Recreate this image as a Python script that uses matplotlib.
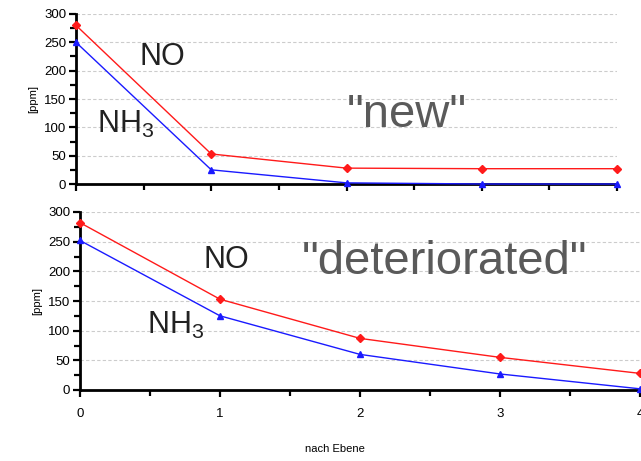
import matplotlib
matplotlib.use("Agg")
import matplotlib.pyplot as plt
from matplotlib.ticker import MultipleLocator

stages = [0, 1, 2, 3, 4]
new_no = [280, 53, 28, 27, 27]
new_nh3 = [250, 25, 2, 0, 0]
det_no = [282, 153, 87, 55, 28]
det_nh3 = [252, 125, 60, 27, 2]
y_ticks = [0, 50, 100, 150, 200, 250, 300]
x_ticks = [0, 1, 2, 3, 4]

plt.rcParams['font.family'] = ['Liberation Sans', 'DejaVu Sans']
plt.rcParams['mathtext.fontset'] = 'custom'
plt.rcParams['mathtext.rm'] = 'Liberation Sans'
plt.rcParams['mathtext.it'] = 'Liberation Sans'

fig = plt.figure(figsize=(6.41, 4.61), dpi=100)
ax1 = fig.add_axes([76/641, 1-184/461, (617-76)/641, (184-14)/461])
ax2 = fig.add_axes([80/641, 1-390/461, (640-80)/641, (390-212)/461])

def style(ax, show_xlabels):
    ax.set_xlim(0, 4)
    ax.set_ylim(0, 300)
    ax.set_yticks(y_ticks)
    ax.set_xticks(x_ticks)
    ax.yaxis.set_minor_locator(MultipleLocator(25))
    ax.xaxis.set_minor_locator(MultipleLocator(0.5))
    for s in ['top', 'right']:
        ax.spines[s].set_visible(False)
    for s in ['left', 'bottom']:
        ax.spines[s].set_linewidth(2)
    ax.tick_params(which='major', direction='out', length=5, width=1.6, labelsize=9.5, colors='black', pad=2)
    ax.tick_params(which='minor', direction='out', length=4, width=1.6)
    ax.grid(axis='y', which='major', color='#cccccc', linestyle=(0, (3, 2)), linewidth=0.8)
    ax.set_axisbelow(True)
    if not show_xlabels:
        ax.tick_params(axis='x', labelbottom=False)
    ax.set_ylabel('[ppm]', fontsize=8, labelpad=4)

def plot(ax, no, nh3):
    ax.plot(stages, no, color='#ff1a1a', linewidth=1, marker='D', markersize=4, clip_on=False, zorder=3)
    ax.plot(stages, nh3, color='#1a1aff', linewidth=1, marker='^', markersize=5, clip_on=False, zorder=3)

plot(ax1, new_no, new_nh3)
plot(ax2, det_no, det_nh3)
style(ax1, False)
style(ax2, True)
ax2.tick_params(axis='x', pad=8)

nh3 = r'NH$_\mathrm{3}$'
ax1.text(162/641, 1-57/461, 'NO', transform=fig.transFigure, fontsize=22, color='#222222', ha='center', va='center')
ax1.text(126/641, 1-124/461, nh3, transform=fig.transFigure, fontsize=22, color='#222222', ha='center', va='center')
ax1.text(407/641, 1-115/461, '"new"', transform=fig.transFigure, fontsize=34, color='#5a5a5a', ha='center', va='center')
ax2.text(226/641, 1-260/461, 'NO', transform=fig.transFigure, fontsize=22, color='#222222', ha='center', va='center')
ax2.text(176/641, 1-325/461, nh3, transform=fig.transFigure, fontsize=22, color='#222222', ha='center', va='center')
ax2.text(444/641, 1-262/461, '"deteriorated"', transform=fig.transFigure, fontsize=34, color='#5a5a5a', ha='center', va='center')

fig.text(335/641, 1-449/461, 'nach Ebene', fontsize=8, ha='center', va='center')

fig.savefig('out.png', dpi=100)
